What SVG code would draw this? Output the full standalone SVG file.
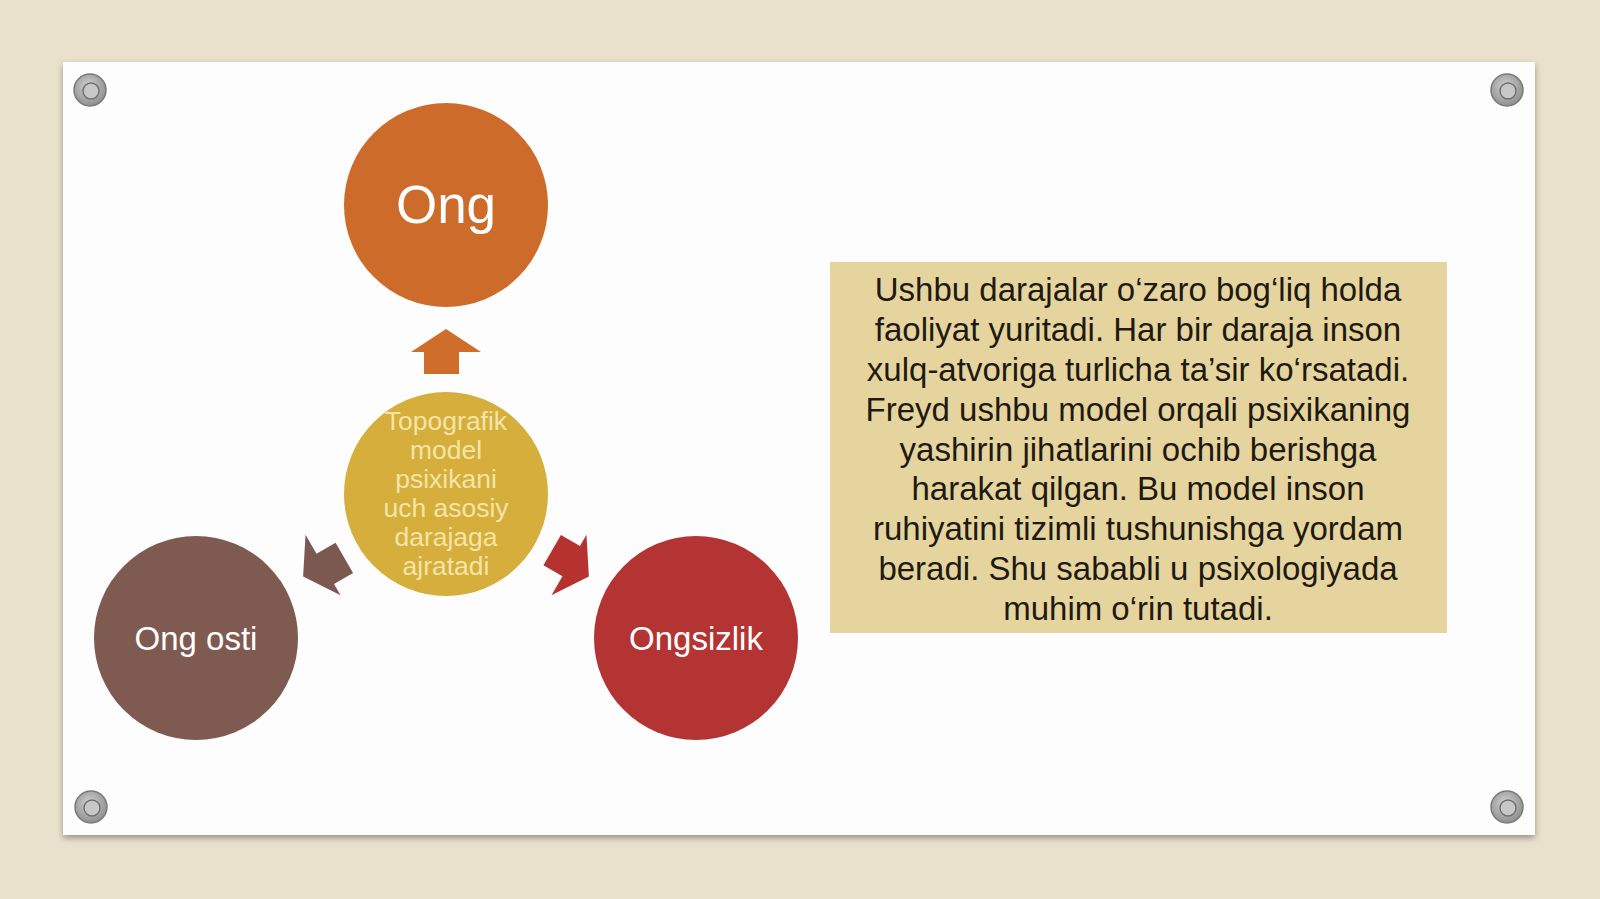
<svg xmlns="http://www.w3.org/2000/svg" width="1600" height="899" viewBox="0 0 1600 899">
<defs>
<style>
.lbl{font-family:"Liberation Sans",Arial,sans-serif;fill:#FFFFFF;text-anchor:middle}
.ctr{font-family:"Liberation Sans",Arial,sans-serif;fill:#F5E5A8;text-anchor:middle;font-size:26.5px}
.body{font-family:"Liberation Sans",Arial,sans-serif;fill:#1E1A12;text-anchor:middle;font-size:33px}
.pin{fill:url(#pg);stroke:#7A7A7A;stroke-width:1.5}
.pinin{fill:#C8C8C8;stroke:#707070;stroke-width:1.5}
</style>
<radialGradient id="pg" cx="45%" cy="40%" r="60%">
<stop offset="0" stop-color="#D4D4D4"/>
<stop offset="1" stop-color="#8E8E8E"/>
</radialGradient>
<filter id="sh" x="-5%" y="-5%" width="110%" height="110%">
<feGaussianBlur in="SourceAlpha" stdDeviation="3"/>
<feOffset dx="0" dy="3"/>
<feComponentTransfer><feFuncA type="linear" slope="0.35"/></feComponentTransfer>
<feMerge><feMergeNode/><feMergeNode in="SourceGraphic"/></feMerge>
</filter>
<path id="arr" d="M446,329 L481,352 L459,352 L459,374 L424,374 L424,352 L411,352 Z"/>
</defs>
<rect x="0" y="0" width="1600" height="899" fill="#EAE1CC"/>
<rect x="63" y="62" width="1472" height="773" fill="#FDFDFD" filter="url(#sh)"/>
<g id="pins">
<circle class="pin" cx="90" cy="90" r="16"/><circle class="pinin" cx="91" cy="91" r="8"/>
<circle class="pin" cx="1507" cy="90" r="16"/><circle class="pinin" cx="1508" cy="91" r="8"/>
<circle class="pin" cx="91" cy="807" r="16"/><circle class="pinin" cx="92" cy="808" r="8"/>
<circle class="pin" cx="1507" cy="807" r="16"/><circle class="pinin" cx="1508" cy="808" r="8"/>
</g>
<g id="connectors">
<use href="#arr" fill="#CF6E2A"/>
<use href="#arr" fill="#7C5950" transform="rotate(-120 446 494)"/>
<use href="#arr" fill="#B5322F" transform="rotate(120 446 494)"/>
</g>
<g id="node-ong">
<circle cx="446" cy="205" r="102" fill="#CD6C2A"/>
<text class="lbl" x="446" y="223" font-size="53">Ong</text>
</g>
<g id="node-center">
<circle cx="446" cy="494" r="102" fill="#D5AE3C"/>
<text class="ctr" x="446" y="430">Topografik</text>
<text class="ctr" x="446" y="459">model</text>
<text class="ctr" x="446" y="488">psixikani</text>
<text class="ctr" x="446" y="517">uch asosiy</text>
<text class="ctr" x="446" y="546">darajaga</text>
<text class="ctr" x="446" y="575">ajratadi</text>
</g>
<g id="node-ongosti">
<circle cx="196" cy="638" r="102" fill="#7E5A50"/>
<text class="lbl" x="196" y="650" font-size="33">Ong osti</text>
</g>
<g id="node-ongsizlik">
<circle cx="696" cy="638" r="102" fill="#B43434"/>
<text class="lbl" x="696" y="650" font-size="33">Ongsizlik</text>
</g>
<g id="textbox">
<rect x="830" y="262" width="617" height="371" fill="#E6D49E"/>
<text class="body" x="1138" y="301">Ushbu darajalar o‘zaro bog‘liq holda</text>
<text class="body" x="1138" y="341">faoliyat yuritadi. Har bir daraja inson</text>
<text class="body" x="1138" y="381">xulq-atvoriga turlicha ta’sir ko‘rsatadi.</text>
<text class="body" x="1138" y="421">Freyd ushbu model orqali psixikaning</text>
<text class="body" x="1138" y="461">yashirin jihatlarini ochib berishga</text>
<text class="body" x="1138" y="500">harakat qilgan. Bu model inson</text>
<text class="body" x="1138" y="540">ruhiyatini tizimli tushunishga yordam</text>
<text class="body" x="1138" y="580">beradi. Shu sababli u psixologiyada</text>
<text class="body" x="1138" y="620">muhim o‘rin tutadi.</text>
</g>
</svg>
